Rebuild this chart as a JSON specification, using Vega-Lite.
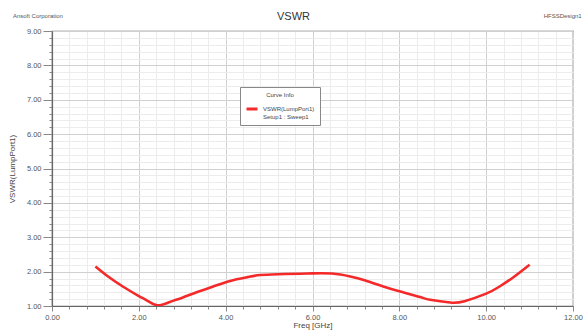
{
  "$schema": "https://vega.github.io/schema/vega-lite/v6.json",
  "width": 521,
  "height": 275,
  "autosize": {"type": "none"},
  "padding": {"left": 52, "top": 31, "right": 13, "bottom": 26},
  "background": "white",
  "config": {
    "font": "Liberation Sans",
    "view": {"stroke": "#666", "strokeWidth": 1.2},
    "title": {"font": "Liberation Sans", "fontSize": 11, "fontWeight": "normal", "color": "#333"}
  },
  "title": {"text": "VSWR", "offset": -9, "dx": -19},
  "resolve": {"axis": {"x": "independent", "y": "independent"}},
  "layer": [
    {
      "data": {
        "values": [
          {"freq": 1.0, "vswr": 2.15},
          {"freq": 1.3, "vswr": 1.85},
          {"freq": 1.64, "vswr": 1.56},
          {"freq": 2.0, "vswr": 1.29},
          {"freq": 2.2, "vswr": 1.15},
          {"freq": 2.43, "vswr": 1.02},
          {"freq": 2.7, "vswr": 1.11},
          {"freq": 3.0, "vswr": 1.24},
          {"freq": 3.33, "vswr": 1.40},
          {"freq": 3.7, "vswr": 1.56},
          {"freq": 4.1, "vswr": 1.73},
          {"freq": 4.5, "vswr": 1.84},
          {"freq": 4.79, "vswr": 1.90},
          {"freq": 5.2, "vswr": 1.925},
          {"freq": 5.71, "vswr": 1.94},
          {"freq": 6.0, "vswr": 1.95},
          {"freq": 6.45, "vswr": 1.945},
          {"freq": 6.87, "vswr": 1.86},
          {"freq": 7.2, "vswr": 1.75},
          {"freq": 7.63, "vswr": 1.57},
          {"freq": 8.0, "vswr": 1.43},
          {"freq": 8.48, "vswr": 1.26},
          {"freq": 8.71, "vswr": 1.18},
          {"freq": 9.17, "vswr": 1.10},
          {"freq": 9.5, "vswr": 1.14},
          {"freq": 10.0, "vswr": 1.36},
          {"freq": 10.3, "vswr": 1.56},
          {"freq": 10.62, "vswr": 1.83},
          {"freq": 11.0, "vswr": 2.20}
        ]
      },
      "mark": {"type": "line", "strokeWidth": 2.6, "interpolate": "natural", "clip": true},
      "encoding": {
        "x": {
          "field": "freq", "type": "quantitative",
          "scale": {"domain": [0, 12], "nice": false, "zero": false},
          "axis": {
            "title": "Freq [GHz]",
            "titleFontSize": 8, "titleFont": "Liberation Sans", "titleFontWeight": "normal", "titleColor": "#444", "titlePadding": 1,
            "values": [0,0.4,0.8,1.2,1.6,2,2.4,2.8,3.2,3.6,4,4.4,4.8,5.2,5.6,6,6.4,6.8,7.2,7.6,8,8.4,8.8,9.2,9.6,10,10.4,10.8,11.2,11.6,12],
            "labelExpr": "abs(datum.value/2 - round(datum.value/2)) < 0.01 ? format(datum.value, '.2f') : ''",
            "labelFontSize": 7.5, "labelColor": "#555", "labelPadding": 2, "labelFlush": false, "labelOverlap": false, "labelBound": false,
            "domainColor": "#666", "domainWidth": 1.2,
            "tickColor": "#888",
            "tickSize": {"condition": {"test": "abs(datum.value/2 - round(datum.value/2)) < 0.01", "value": 5}, "value": 3},
            "grid": true,
            "gridColor": {"condition": {"test": "abs(datum.value/2 - round(datum.value/2)) < 0.01", "value": "#d0d0d0"}, "value": "#ececec"},
            "gridWidth": 1
          }
        },
        "y": {
          "field": "vswr", "type": "quantitative",
          "scale": {"domain": [1, 9], "nice": false, "zero": false},
          "axis": {
            "title": "VSWR(LumpPort1)",
            "titleFontSize": 8, "titleFont": "Liberation Sans", "titleFontWeight": "normal", "titleColor": "#444", "titlePadding": 10,
            "values": [1,1.2,1.4,1.6,1.8,2,2.2,2.4,2.6,2.8,3,3.2,3.4,3.6,3.8,4,4.2,4.4,4.6,4.8,5,5.2,5.4,5.6,5.8,6,6.2,6.4,6.6,6.8,7,7.2,7.4,7.6,7.8,8,8.2,8.4,8.6,8.8,9],
            "labelExpr": "abs(datum.value - round(datum.value)) < 0.01 ? format(datum.value, '.2f') : ''",
            "labelFontSize": 7.5, "labelColor": "#555", "labelPadding": 2, "labelFlush": false, "labelOverlap": false, "labelBound": false,
            "domainColor": "#666", "domainWidth": 1.2,
            "tickColor": "#888",
            "tickSize": {"condition": {"test": "abs(datum.value - round(datum.value)) < 0.01", "value": 9}, "value": 3},
            "grid": true,
            "gridColor": {"condition": {"test": "abs(datum.value - round(datum.value)) < 0.01", "value": "#d0d0d0"}, "value": "#ececec"},
            "gridWidth": 1
          }
        },
        "color": {
          "datum": "VSWR(LumpPort1)",
          "type": "nominal",
          "scale": {"domain": ["VSWR(LumpPort1)"], "range": ["#f42a2a"]},
          "legend": {
            "orient": "none", "legendX": 188, "legendY": 56,
            "title": "Curve Info", "titleAnchor": "middle", "titleFontSize": 6, "titleFontWeight": "normal", "titleColor": "#444", "titlePadding": 4,
            "labelFontSize": 6, "labelColor": "#444",
            "labelExpr": "['VSWR(LumpPort1)', 'Setup1 : Sweep1']",
            "symbolType": "stroke", "symbolStrokeWidth": 3, "symbolSize": 120,
            "strokeColor": "#888", "fillColor": "white", "padding": 5, "cornerRadius": 0
          }
        }
      }
    },
    {
      "data": {"values": [{"note": "Ansoft Corporation"}]},
      "mark": {"type": "text", "align": "left", "baseline": "middle", "fontSize": 6, "fill": "#555", "font": "Liberation Sans"},
      "encoding": {
        "x": {"datum": -0.9, "type": "quantitative", "axis": null},
        "y": {"datum": 9.45, "type": "quantitative", "axis": null},
        "text": {"field": "note"}
      }
    },
    {
      "data": {"values": [{"note": "HFSSDesign1"}]},
      "mark": {"type": "text", "align": "right", "baseline": "middle", "fontSize": 6, "fill": "#555", "font": "Liberation Sans"},
      "encoding": {
        "x": {"datum": 12.2, "type": "quantitative", "axis": null},
        "y": {"datum": 9.45, "type": "quantitative", "axis": null},
        "text": {"field": "note"}
      }
    }
  ]
}
